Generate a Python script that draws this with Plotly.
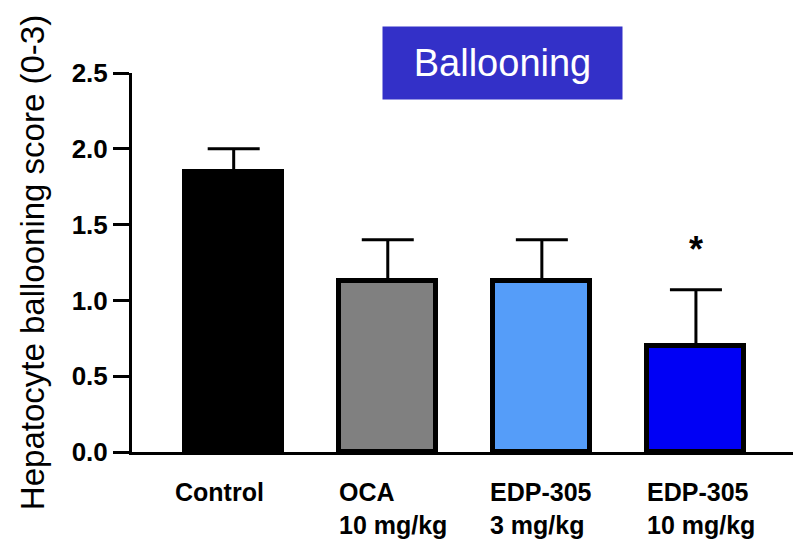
import plotly.graph_objects as go

# ---- data ----
categories = ["Control", "OCA", "EDP-305 3", "EDP-305 10"]
cat_labels = ["Control", "OCA<br>10 mg/kg", "EDP-305<br>3 mg/kg", "EDP-305<br>10 mg/kg"]
means = [1.85, 1.13, 1.13, 0.70]
sems = [0.15, 0.27, 0.27, 0.37]
significance = ["", "", "", "*"]
y_ticks = [0.0, 0.5, 1.0, 1.5, 2.0, 2.5]
y_ticktext = ["0.0", "0.5", "1.0", "1.5", "2.0", "2.5"]

# ---- styles ----
bar_colors = ["#000000", "#808080", "#559DF9", "#0000F5"]
label_shift = [-10, 0, -3, 0]
BAR_W = 0.63
xs = list(range(len(categories)))

fig = go.Figure()
fig.add_trace(go.Bar(
    x=xs, y=means, width=BAR_W,
    marker=dict(color=bar_colors, line=dict(color="#000000", width=5)),
    error_y=dict(type="data", array=sems, arrayminus=[0] * len(sems),
                 symmetric=False, color="#000000", thickness=3, width=26),
    showlegend=False, hoverinfo="skip",
))

annotations = []
for i, lab in enumerate(cat_labels):
    annotations.append(dict(
        x=xs[i] - BAR_W / 2, xref="x", y=0, yref="paper",
        xanchor="left", yanchor="top", align="left",
        text=lab, showarrow=False, xshift=label_shift[i] - 2, yshift=-24,
        font=dict(family="Liberation Sans, Arial", size=25, color="#000000", weight="bold"),
    ))
for i, s in enumerate(significance):
    if s:
        annotations.append(dict(
            x=xs[i], xref="x", y=means[i] + sems[i], yref="y",
            xanchor="center", yanchor="bottom", text=s, showarrow=False,
            yshift=18,
            font=dict(family="Liberation Sans, Arial", size=36, color="#000000", weight="bold"),
        ))
annotations.append(dict(
    x=0.5598, xref="paper", y=1.0264, yref="paper",
    xanchor="center", yanchor="middle", text="Ballooning", showarrow=False,
    bgcolor="#3330C8", width=239, height=72, borderpad=0,
    font=dict(family="Liberation Sans, Arial", size=38, color="#FFFFFF"),
))

fig.update_layout(
    width=793, height=539,
    margin=dict(l=132, r=0, t=73, b=87, pad=0),
    paper_bgcolor="#FFFFFF", plot_bgcolor="#FFFFFF",
    annotations=annotations,
    bargap=0,
)
fig.update_xaxes(
    range=[-0.66, 3.63], showline=True, linewidth=3, linecolor="#000000",
    showticklabels=False, ticks="", showgrid=False, zeroline=False,
)
fig.update_yaxes(
    range=[0, 2.5], tickvals=y_ticks, ticktext=y_ticktext,
    showline=True, linewidth=3, linecolor="#000000",
    ticks="outside", ticklen=16, tickwidth=3, tickcolor="#000000",
    showgrid=False, zeroline=False,
    tickfont=dict(family="Liberation Sans, Arial", size=26, color="#000000", weight="bold"),
    title=dict(text="Hepatocyte ballooning score (0-3)", standoff=18,
               font=dict(family="Liberation Sans, Arial", size=33, color="#000000")),
)

fig.write_html("out.html", config={"displayModeBar": False},
               post_script="document.body.style.margin='0';")
